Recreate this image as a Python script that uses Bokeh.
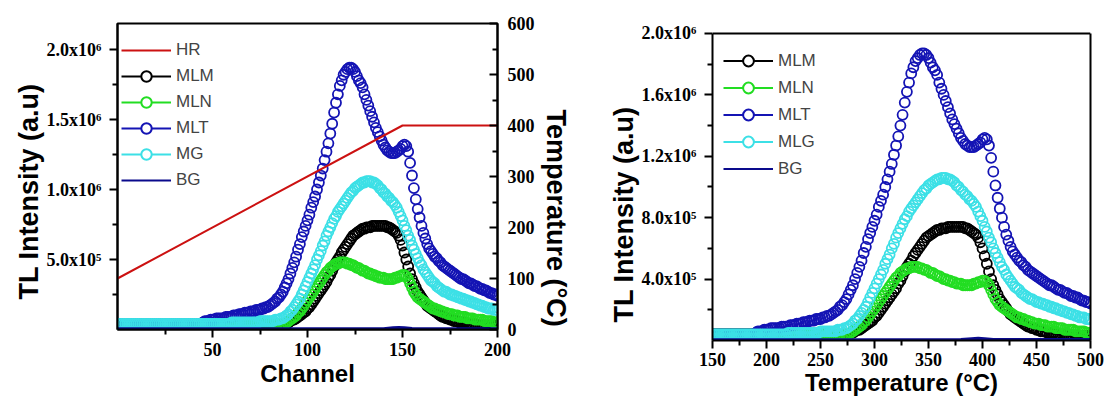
import numpy as np
from bokeh.plotting import figure
from bokeh.layouts import row
from bokeh.models import Range1d, LinearAxis, FixedTicker, Legend, LegendItem, Span, Title
from bokeh.embed import file_html
from bokeh.resources import INLINE

# ---------------- data (intensity in units of 10^6 a.u.) ----------------
channel = list(range(0, 201))

mlt = ([0.04] * 45 + [0.05, 0.06, 0.06, 0.06, 0.07] +
       [0.07, 0.07, 0.08, 0.08, 0.08, 0.08, 0.08, 0.09, 0.09, 0.09] +
       [0.09, 0.10, 0.10, 0.10, 0.11, 0.11, 0.11, 0.12, 0.12, 0.12] +
       [0.13, 0.13, 0.13, 0.14, 0.14, 0.14, 0.15, 0.15, 0.16, 0.16] +
       [0.17, 0.18, 0.19, 0.20, 0.22, 0.23, 0.25, 0.27, 0.30, 0.33] +
       [0.36, 0.40, 0.44, 0.48, 0.52, 0.57, 0.61, 0.66, 0.70, 0.74] +
       [0.78, 0.82, 0.87, 0.91, 0.95, 1.00, 1.05, 1.10, 1.15, 1.21] +
       [1.27, 1.33, 1.40, 1.47, 1.55, 1.62, 1.68, 1.74, 1.78, 1.82] +
       [1.84, 1.86, 1.87, 1.87, 1.86, 1.84, 1.81, 1.78, 1.76, 1.73] +
       [1.68, 1.64, 1.60, 1.56, 1.52, 1.48, 1.44, 1.41, 1.38, 1.35] +
       [1.32, 1.30, 1.28, 1.27, 1.26, 1.26, 1.26, 1.27, 1.28, 1.29] +
       [1.31, 1.32, 1.31, 1.27, 1.19, 1.10, 1.01, 0.93, 0.86, 0.80] +
       [0.74, 0.69, 0.65, 0.61, 0.58, 0.56, 0.54, 0.52, 0.51, 0.49] +
       [0.48, 0.46, 0.45, 0.44, 0.43, 0.42, 0.41, 0.40, 0.39, 0.38] +
       [0.37, 0.36, 0.36, 0.35, 0.34, 0.33, 0.33, 0.32, 0.31, 0.31] +
       [0.30, 0.29, 0.29, 0.28, 0.28, 0.27, 0.26, 0.26, 0.25, 0.25] +
       [0.24])

mg = ([0.04] * 60 + [0.05] * 15 + [0.06] * 5 +
      [0.06, 0.06, 0.06, 0.07, 0.07, 0.07, 0.08, 0.08, 0.09, 0.10] +
      [0.11, 0.13, 0.14, 0.16, 0.18, 0.20, 0.22, 0.25, 0.28, 0.31] +
      [0.34, 0.37, 0.40, 0.43, 0.46, 0.50, 0.53, 0.56, 0.60, 0.63] +
      [0.67, 0.70, 0.73, 0.76, 0.79, 0.81, 0.84, 0.86, 0.88, 0.90] +
      [0.92, 0.94, 0.96, 0.98, 0.99, 1.01, 1.02, 1.03, 1.04, 1.05] +
      [1.05, 1.06, 1.06, 1.06, 1.05, 1.05, 1.04, 1.03, 1.01, 1.00] +
      [0.98, 0.97, 0.95, 0.94, 0.92, 0.91, 0.89, 0.87, 0.84, 0.81] +
      [0.78, 0.74, 0.71, 0.67, 0.64, 0.60, 0.57, 0.54, 0.51, 0.48] +
      [0.46, 0.43, 0.41, 0.39, 0.37, 0.35, 0.34, 0.33, 0.31, 0.30] +
      [0.29, 0.28, 0.27, 0.27, 0.26, 0.25, 0.25, 0.24, 0.24, 0.23] +
      [0.23, 0.22, 0.22, 0.21, 0.21, 0.20, 0.20, 0.19, 0.19, 0.18] +
      [0.18, 0.17, 0.17, 0.16, 0.16, 0.15, 0.15, 0.15, 0.14, 0.14] +
      [0.14])

mlm = ([0.04] * 80 +
       [0.03, 0.02, 0.02, 0.02, 0.02, 0.03, 0.03, 0.04, 0.04, 0.05] +
       [0.05, 0.06, 0.07, 0.07, 0.08, 0.09, 0.10, 0.11, 0.12, 0.13] +
       [0.15, 0.16, 0.18, 0.20, 0.22, 0.24, 0.26, 0.28, 0.30, 0.32] +
       [0.34, 0.37, 0.39, 0.42, 0.45, 0.48, 0.50, 0.52, 0.55, 0.57] +
       [0.59, 0.61, 0.63, 0.65, 0.67, 0.68, 0.69, 0.70, 0.71, 0.72] +
       [0.72, 0.73, 0.73, 0.73, 0.74, 0.74, 0.74, 0.74, 0.74, 0.74] +
       [0.74, 0.74, 0.73, 0.73, 0.72, 0.71, 0.70, 0.69, 0.67, 0.64] +
       [0.60, 0.55, 0.50, 0.45, 0.40, 0.36, 0.33, 0.30, 0.27, 0.25] +
       [0.23, 0.21, 0.19, 0.17, 0.16, 0.15, 0.14, 0.13, 0.12, 0.11] +
       [0.10, 0.09, 0.09, 0.08, 0.08, 0.07, 0.07, 0.06, 0.06, 0.06] +
       [0.05, 0.05, 0.05, 0.05, 0.04, 0.04, 0.04, 0.04, 0.04, 0.03] +
       [0.03] * 10 +
       [0.03])

mln = ([0.04] * 85 +
       [0.03, 0.03, 0.04, 0.04, 0.05] +
       [0.06, 0.07, 0.08, 0.09, 0.10, 0.12, 0.13, 0.15, 0.17, 0.19] +
       [0.21, 0.23, 0.25, 0.27, 0.29, 0.31, 0.33, 0.35, 0.37, 0.39] +
       [0.41, 0.42, 0.44, 0.45, 0.46, 0.47, 0.47, 0.48, 0.48, 0.48] +
       [0.48, 0.47, 0.47, 0.46, 0.46, 0.45, 0.44, 0.44, 0.43, 0.42] +
       [0.42, 0.41, 0.40, 0.40, 0.39, 0.39, 0.38, 0.38, 0.37, 0.37] +
       [0.37, 0.36, 0.36, 0.36, 0.36, 0.36, 0.37, 0.37, 0.38, 0.38] +
       [0.39, 0.39, 0.38, 0.36, 0.33, 0.30, 0.27, 0.25, 0.23, 0.22] +
       [0.21, 0.20, 0.19, 0.18, 0.17, 0.16, 0.15, 0.15, 0.14, 0.14] +
       [0.13, 0.13, 0.12, 0.12, 0.11, 0.11, 0.11, 0.10, 0.10, 0.10] +
       [0.09, 0.09, 0.09, 0.09, 0.08, 0.08, 0.08, 0.08, 0.07, 0.07] +
       [0.07, 0.07, 0.07, 0.06, 0.06, 0.06, 0.06, 0.06, 0.05, 0.05] +
       [0.05])

bg_channel = [0, 100, 140, 145, 148, 151, 155, 200]
bg = [0.005, 0.005, 0.006, 0.012, 0.015, 0.012, 0.007, 0.006]

hr_channel = [0, 150, 200]
hr_temp = [100, 400, 400]

# channel -> temperature (start 100 C, 2 C per channel)
temperature = [100 + 2 * c for c in channel]
bg_temperature = [100 + 2 * c for c in bg_channel]

left_x_ticks = [50, 100, 150, 200]
left_y_ticks = [0.5, 1.0, 1.5, 2.0]
left_y_labels = ["5.0x10⁵", "1.0x10⁶", "1.5x10⁶", "2.0x10⁶"]
temp_ticks = [0, 100, 200, 300, 400, 500, 600]
right_x_ticks = [150, 200, 250, 300, 350, 400, 450, 500]
right_y_ticks = [0.4, 0.8, 1.2, 1.6, 2.0]
right_y_labels = ["4.0x10⁵", "8.0x10⁵", "1.2x10⁶", "1.6x10⁶", "2.0x10⁶"]
right_y_max = 2.0

for arr in (mlt, mg, mlm, mln):
    assert len(arr) == len(channel), len(arr)

C_MLM = "#000000"
C_MLN = "#22dd22"
C_MLT = "#1414b4"
C_MG = "#3ce0e6"
C_BG = "#0a0a8c"
C_HR = "#cc1111"

TICK_FONT = "Liberation Serif"
LABEL_FONT = "Liberation Sans"


def style_axis(ax, inward=False, title_size="24px"):
    ax.axis_line_color = "black"
    ax.axis_line_width = 2
    ax.major_tick_line_width = 2
    ax.minor_tick_line_width = 2
    ax.major_tick_line_color = "black"
    ax.minor_tick_line_color = "black"
    if inward:
        ax.major_tick_in, ax.major_tick_out = 8, 0
        ax.minor_tick_in, ax.minor_tick_out = 5, 0
    else:
        ax.major_tick_in, ax.major_tick_out = 0, 8
        ax.minor_tick_in, ax.minor_tick_out = 0, 5
    ax.major_label_text_font = TICK_FONT
    ax.major_label_text_font_style = "bold"
    ax.major_label_text_font_size = "18px"
    ax.major_label_text_color = "black"
    ax.axis_label_text_font = LABEL_FONT
    ax.axis_label_text_font_style = "bold"
    ax.axis_label_text_font_size = title_size
    ax.axis_label_text_color = "black"


def side_title(p, text, side, offset, standoff):
    # align="left": text starts at the frame's starting edge, shifted by offset pixels
    p.add_layout(Title(text=text, align="left", offset=offset, standoff=standoff,
                       text_font=LABEL_FONT, text_font_style="bold", text_font_size="27px",
                       text_color="black"), side)


def base_fig(**kw):
    p = figure(output_backend="svg", toolbar_location=None, **kw)
    p.xgrid.visible = False
    p.ygrid.visible = False
    p.background_fill_color = "white"
    p.border_fill_color = "white"
    return p


def add_series(p, x, series):
    for label, y, color in series:
        p.scatter(x, y, marker="circle", size=10, fill_color=None,
                  line_color=color, line_width=1.8)


def legend_items(p, entries):
    # legend-only renderers placed far outside the visible ranges
    items = []
    for label, color, kind in entries:
        ln = p.line(x=[-9999, -9998], y=[-9999, -9999], line_color=color, line_width=2)
        rs = [ln]
        if kind == "marker":
            sc = p.scatter(x=[-9999], y=[-9999], marker="circle", size=12, fill_color="white",
                           line_color=color, line_width=2)
            rs.append(sc)
        items.append(LegendItem(label=label, renderers=rs))
    return items


# ---------------- left figure: intensity vs channel ----------------
p1 = base_fig(width=600, height=393, x_range=Range1d(0, 200), y_range=Range1d(0, 2.186),
              min_border_left=117, min_border_right=103, min_border_top=23, min_border_bottom=64)
p1.outline_line_color = "black"
p1.outline_line_width = 2
p1.extra_y_ranges = {"temp": Range1d(0, 600)}

p1.xaxis.ticker = FixedTicker(ticks=left_x_ticks, minor_ticks=[25, 75, 125, 175])
p1.yaxis.ticker = FixedTicker(ticks=left_y_ticks, minor_ticks=[0.25, 0.75, 1.25, 1.75])
p1.yaxis.major_label_overrides = dict(zip(left_y_ticks, left_y_labels))
p1.xaxis.axis_label = "Channel"
style_axis(p1.xaxis[0])
style_axis(p1.yaxis[0])
p1.yaxis.major_label_standoff = 8
p1.xaxis.major_label_standoff = 5
p1.xaxis.axis_label_standoff = 1

ax_r = LinearAxis(y_range_name="temp",
                  ticker=FixedTicker(ticks=temp_ticks, minor_ticks=[50, 150, 250, 350, 450, 550]))
style_axis(ax_r, inward=True)
ax_r.major_label_standoff = 10
p1.add_layout(ax_r, "right")

side_title(p1, "TL Intensity (a.u)", "left", 30, 0)
side_title(p1, "Temperature (°C)", "right", 86, 6)

add_series(p1, channel, [("MLM", mlm, C_MLM), ("MLN", mln, C_MLN),
                         ("MLT", mlt, C_MLT), ("MG", mg, C_MG)])
p1.line(bg_channel, bg, line_color=C_BG, line_width=3)
p1.line(hr_channel, hr_temp, line_color=C_HR, line_width=2, y_range_name="temp")

leg1 = Legend(items=legend_items(p1, [("HR", C_HR, "line"), ("MLM", C_MLM, "marker"),
                                      ("MLN", C_MLN, "marker"), ("MLT", C_MLT, "marker"),
                                      ("MG", C_MG, "marker"), ("BG", C_BG, "line")]),
              location=(1, 133), glyph_width=50, glyph_height=26, spacing=0, padding=3,
              label_standoff=5, label_text_font=LABEL_FONT, label_text_font_size="17px",
              background_fill_alpha=0, border_line_alpha=0)
p1.add_layout(leg1)

# ---------------- right figure: intensity vs temperature ----------------
# frame spans 10 px above the 2.0x10^6 level; the visible box is closed at 2.0x10^6
p2 = base_fig(width=508, height=404, x_range=Range1d(150, 500), y_range=Range1d(0, 2.065),
              min_border_left=112, min_border_right=18, min_border_top=23, min_border_bottom=64)
p2.outline_line_color = None
p2.xaxis.ticker = FixedTicker(ticks=right_x_ticks, minor_ticks=[175, 225, 275, 325, 375, 425, 475])
p2.yaxis.ticker = FixedTicker(ticks=right_y_ticks, minor_ticks=[0.2, 0.6, 1.0, 1.4, 1.8])
p2.yaxis.major_label_overrides = dict(zip(right_y_ticks, right_y_labels))
p2.yaxis.bounds = (0, right_y_max)
p2.xaxis.axis_label = "Temperature (°C)"
style_axis(p2.xaxis[0])
style_axis(p2.yaxis[0])
p2.yaxis.major_label_standoff = 8
p2.xaxis.major_label_standoff = 4
p2.xaxis.axis_label_standoff = 0

side_title(p2, "TL Intensity (a.u)", "left", 18, 0)

# right edge of the box (no ticks, no labels)
edge = LinearAxis(bounds=(0, right_y_max), ticker=FixedTicker(ticks=[]),
                  major_label_text_font_size="0px", axis_line_width=2, axis_line_color="black",
                  major_tick_out=0, minor_tick_out=0)
p2.add_layout(edge, "right")
p2.add_layout(Span(location=right_y_max, dimension="width", line_color="black", line_width=2))

add_series(p2, temperature, [("MLM", mlm, C_MLM), ("MLN", mln, C_MLN),
                             ("MLT", mlt, C_MLT), ("MLG", mg, C_MG)])
p2.line(bg_temperature, bg, line_color=C_BG, line_width=3)

leg2 = Legend(items=legend_items(p2, [("MLM", C_MLM, "marker"), ("MLN", C_MLN, "marker"),
                                      ("MLT", C_MLT, "marker"), ("MLG", C_MG, "marker"),
                                      ("BG", C_BG, "line")]),
              location=(8, 155), glyph_width=50, glyph_height=27, spacing=0, padding=3,
              label_standoff=5, label_text_font=LABEL_FONT, label_text_font_size="17px",
              background_fill_alpha=0, border_line_alpha=0)
p2.add_layout(leg2)

layout = row(p1, p2)
open("out.html", "w").write(file_html(layout, INLINE))
